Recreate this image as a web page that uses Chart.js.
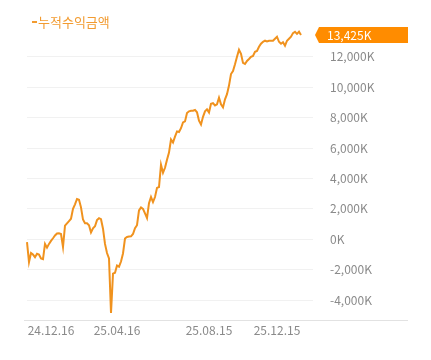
<!DOCTYPE html>
<html>
<head>
<meta charset="utf-8">
<script src="https://cdn.jsdelivr.net/npm/chart.js@4/dist/chart.umd.min.js"></script>
<style>
  body { margin: 0; background: #fff; }
  #wrap { width: 431px; height: 360px; position: relative; }
</style>
</head>
<body>
<div id="wrap"><canvas id="profit-chart"></canvas></div>
<script>
// 누적수익금액 (단위: 천원, K)
const seriesName = "누적수익금액";
const profit = [
  -180, -1500, -900, -1000, -1170, -950, -1000, -1250, -1300, -300,
  -550, -300, -100, 70, 250, 380, 400, 350, -500, 900,
  1050, 1200, 1350, 2000, 2300, 2650, 2600, 2100, 1300, 1060,
  1060, 930, 450, 730, 860, 1260, 1390, 1320, 700, -300,
  -900, -1260, -4830, -2250, -2190, -1720, -1800, -1460, -930, 50,
  150, 180, 200, 350, 730, 930, 1900, 2100, 2000, 1700,
  1400, 2380, 2780, 2450, 2780, 3380, 3440, 4900, 4370, 4700,
  5230, 5700, 6560, 6360, 6750, 7090, 7050, 7300, 7680, 7750,
  8300, 8410, 8450, 8450, 8500, 8350, 7800, 7550, 8050, 8410,
  8540, 8340, 8900, 8950, 8800, 8870, 9300, 8870, 8670, 9200,
  9540, 10100, 10860, 11060, 11500, 11990, 12450, 12190, 11590, 11520,
  11720, 11850, 11990, 12050, 12320, 12380, 12650, 12850, 12980, 13050,
  13000, 13050, 13050, 13050, 13180, 13310, 12980, 12850, 12950, 12720,
  13050, 13180, 13310, 13550, 13640, 13500, 13640, 13425
];
// 오른쪽 여백용 빈 구간
const emptyTail = 6;

// x축 눈금 라벨과 그 위치(데이터 인덱스)
const tickLabels = ["24.12.16", "25.04.16", "25.08.15", "25.12.15"];
const tickIndex = [12, 45, 91, 125];
// y축 눈금 값
const yTicks = [-4000, -2000, 0, 2000, 4000, 6000, 8000, 10000, 12000];

const lineColor = "#f0921e";
const boxColor = "#ff8c00";
const fontFamily = "'Noto Sans CJK KR', 'Noto Sans', sans-serif";

const values = profit.concat(new Array(emptyTail).fill(null));
const labels = values.map((_, i) => {
    const k = tickIndex.indexOf(i);
    return k >= 0 ? tickLabels[k] : "";
});

function fmtK(v) {
    return Math.round(v).toLocaleString("en-US") + "K";
}

// 범례, 마지막 값 박스, 하단 축선
const decoPlugin = {
    id: "deco",
    afterDraw(chart) {
        const c = chart.ctx;
        const yScale = chart.scales.y;

        // 하단 축선
        c.save();
        c.strokeStyle = "#e2e2e2";
        c.lineWidth = 1;
        c.beginPath();
        c.moveTo(24, chart.chartArea.bottom + 0.5);
        c.lineTo(408, chart.chartArea.bottom + 0.5);
        c.stroke();

        // 범례
        c.fillStyle = "#f29b30";
        c.fillRect(32, 21, 5, 2);
        c.font = "13px " + fontFamily;
        c.textBaseline = "middle";
        c.textAlign = "left";
        c.fillText(seriesName, 38, 22);

        // 마지막 값 표시 박스
        const last = profit[profit.length - 1];
        const y = yScale.getPixelForValue(last);
        const left = 319, right = 408, h = 16;
        c.fillStyle = boxColor;
        c.beginPath();
        c.moveTo(315, y);
        c.lineTo(left, y - h / 2);
        c.lineTo(right, y - h / 2);
        c.lineTo(right, y + h / 2);
        c.lineTo(left, y + h / 2);
        c.closePath();
        c.fill();
        c.fillStyle = "#fff";
        c.font = "12px " + fontFamily;
        c.fillText(fmtK(last), 327, y + 0.5);
        c.restore();
    }
};

const ctx = document.getElementById("profit-chart").getContext("2d");
new Chart(ctx, {
    type: "line",
    data: {
        labels: labels,
        datasets: [{
            label: seriesName,
            data: values,
            borderColor: lineColor,
            backgroundColor: lineColor,
            borderWidth: 2,
            pointRadius: 0,
            tension: 0,
            fill: false
        }]
    },
    options: {
        responsive: true,
        maintainAspectRatio: false,
        animation: false,
        layout: { padding: { left: 27, right: 0, top: 27, bottom: 0 } },
        plugins: {
            legend: { display: false },
            tooltip: { enabled: false }
        },
        scales: {
            x: {
                grid: { display: false, drawTicks: false },
                border: { display: false },
                ticks: {
                    autoSkip: false,
                    maxRotation: 0,
                    padding: 3,
                    color: "#8a8a8a",
                    font: { family: fontFamily, size: 12 }
                },
                afterFit(scale) { scale.height = 40; }
            },
            y: {
                position: "right",
                min: -5300,
                max: 13950,
                grid: { color: "#f1f1f1", drawTicks: false },
                border: { display: false },
                ticks: {
                    padding: 17,
                    color: "#8a8a8a",
                    font: { family: fontFamily, size: 12 },
                    callback: (v) => fmtK(v)
                },
                afterBuildTicks(scale) {
                    scale.ticks = yTicks.map((v) => ({ value: v }));
                },
                afterFit(scale) { scale.width = 118; }
            }
        }
    },
    plugins: [decoPlugin]
});
</script>
</body>
</html>
